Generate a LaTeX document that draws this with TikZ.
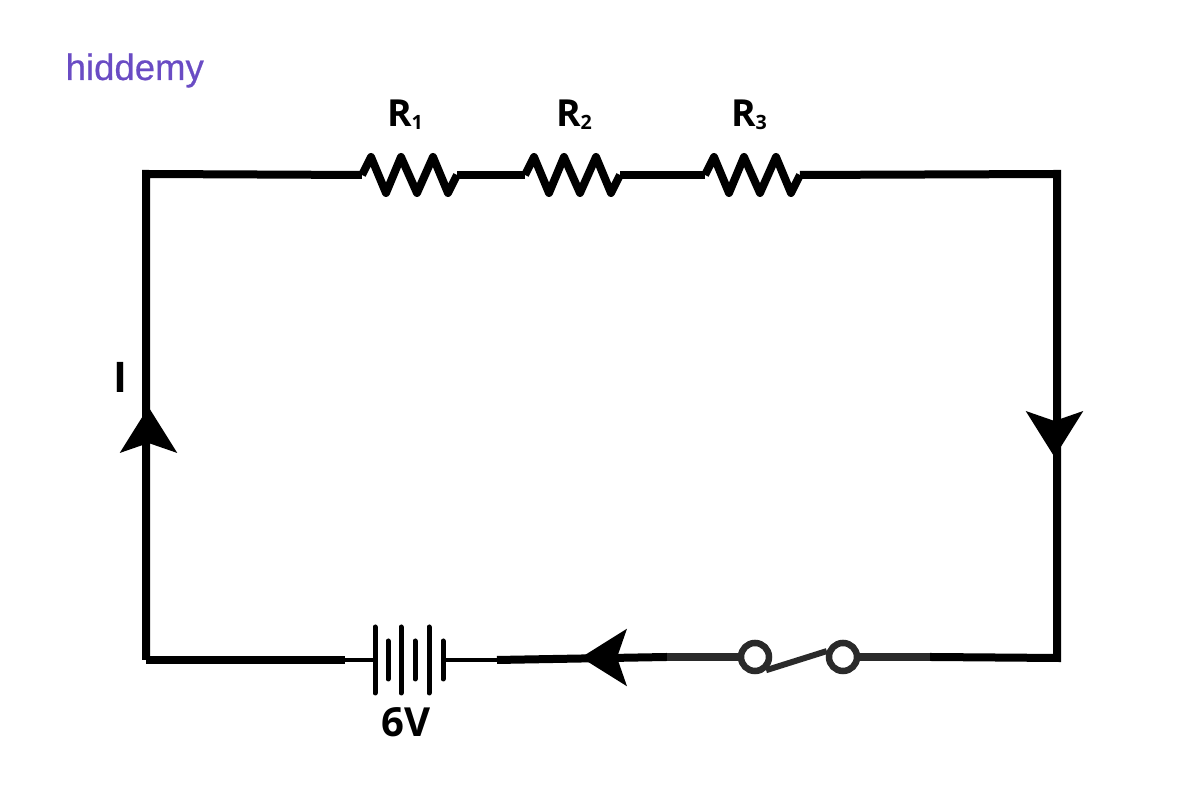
\documentclass[tikz,border=0pt]{standalone}
\usepackage{fontspec}
\setmainfont{Open Sans}
\newfontfamily\logofont[BoldFont=Liberation Sans,BoldFeatures={FakeBold=0.6}]{Liberation Sans}
\newcommand{\rlabel}[1]{R\raisebox{-0.8pt}{\fontsize{5.6pt}{6pt}\selectfont #1}}
\definecolor{logopurple}{HTML}{6A4CC4}
\definecolor{switchgrey}{HTML}{2A2A2A}
\tikzset{
  wire/.style={line width=0.08cm},
  thinwire/.style={line width=0.04cm},
  plate/.style={line width=0.05cm,line cap=round},
  label/.style={font=\fontsize{10.6pt}{12pt}\bfseries,anchor=base,inner sep=0},
  terminal/.style={circle,draw=switchgrey,line width=0.065cm,fill=white,inner sep=0,minimum size=0.28cm},
  pics/zigzag/.style={code={
    \draw[wire,line join=round] (0,0) -- (0.09,0.18) -- (0.24,-0.18) -- (0.39,0.18) -- (0.55,-0.18) -- (0.71,0.18) -- (0.86,-0.18) -- (0.95,0);
  }},
  pics/currenttip/.style={code={
    \fill (0,0) -- (-0.46,0.288) -- (-0.36,0) -- (-0.46,-0.288) -- cycle;
  }}
}
\begin{document}
\begin{tikzpicture}
\useasboundingbox (0,0) rectangle (12,8);
\coordinate (topleft) at (1.46,6.26);
\coordinate (topright) at (10.57,6.26);
\coordinate (botright) at (10.57,1.42);
\coordinate (botleft) at (1.46,1.40);
\coordinate (ronea) at (3.62,6.25);
\coordinate (roneb) at (4.57,6.25);
\coordinate (rtwoa) at (5.25,6.25);
\coordinate (rtwob) at (6.20,6.25);
\coordinate (rthreea) at (7.05,6.25);
\coordinate (rthreeb) at (8.00,6.25);
\coordinate (batleft) at (3.45,1.40);
\coordinate (platea) at (3.75,1.40);
\coordinate (plateb) at (4.43,1.40);
\coordinate (batright) at (4.97,1.40);
\coordinate (greya) at (6.67,1.43);
\coordinate (greyb) at (9.30,1.43);
\node[terminal] (swa) at (7.55,1.43) {};
\node[terminal] (swb) at (8.43,1.43) {};
\draw[wire] (botleft) -- (topleft) -- (ronea);
\draw[wire] (roneb) -- (rtwoa);
\draw[wire] (rtwob) -- (rthreea);
\draw[wire] (rthreeb) -- (topright) -- (botright) -- (greyb);
\draw[wire] (botleft) -- (batleft);
\draw[thinwire] (batleft) -- (platea);
\draw[thinwire] (plateb) -- (batright);
\draw[wire] (batright) -- (greya);
\draw[wire,switchgrey] (greya) -- (swa);
\draw[wire,switchgrey] (swb) -- (greyb);
\draw[wire,switchgrey,line width=0.06cm] (swa.-50) -- (swb.160);
\pic at (ronea) {zigzag};
\pic at (rtwoa) {zigzag};
\pic at (rthreea) {zigzag};
\foreach \x in {3.75,4.01,4.29} \draw[plate] (\x,1.07) -- (\x,1.73);
\foreach \x in {3.88,4.15,4.43} \draw[plate] (\x,1.21) -- (\x,1.59);
\pic[rotate=90] at (1.485,3.93) {currenttip};
\pic[rotate=-90] at (10.545,3.43) {currenttip};
\pic[rotate=180] at (5.81,1.425) {currenttip};
\node[label] (rone) at (4.05,6.73) {\rlabel{1}};
\node[label] (rtwo) at (5.74,6.73) {\rlabel{2}};
\node[label] (rthree) at (7.49,6.73) {\rlabel{3}};
\node[label,font=\fontsize{11.4pt}{13pt}\bfseries] (volt) at (4.06,0.63) {6V};
\node[label,font=\fontsize{12pt}{14pt}\bfseries] (cur) at (1.20,4.07) {I};
\node[anchor=base west,inner sep=0,text=logopurple,font=\logofont\bfseries\fontsize{10.4pt}{12pt}\selectfont] (logo) at (0.65,7.20) {hiddemy};
\end{tikzpicture}
\end{document}
